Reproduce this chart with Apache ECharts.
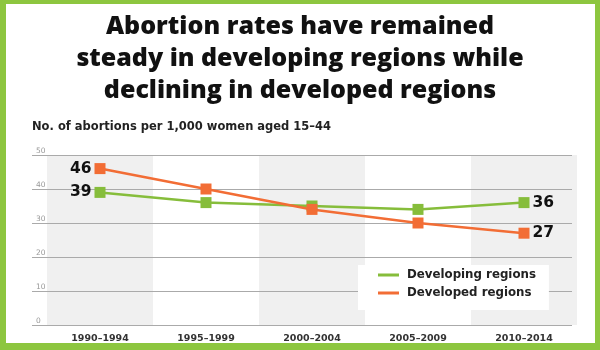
<!DOCTYPE html>
<html>
<head>
<meta charset="utf-8">
<script src="https://cdn.jsdelivr.net/npm/echarts@6/dist/echarts.min.js"></script>
<style>
html,body{margin:0;padding:0;}
#wrap{position:relative;width:600px;height:350px;background:#8dc63f;overflow:hidden;}
#inner{position:absolute;left:6px;top:4px;width:589px;height:339px;background:#fff;}
#chart{position:absolute;left:0;top:0;width:600px;height:350px;}
</style>
</head>
<body>
<div id="wrap"><div id="inner"></div><div id="chart"></div></div>
<script>
const categories = ['1990–1994', '1995–1999', '2000–2004', '2005–2009', '2010–2014'];
const developing = [39, 36, 35, 34, 36];
const developed = [46, 40, 34, 30, 27];
const yTicks = [0, 10, 20, 30, 40, 50];
const titleText = 'Abortion rates have remained\nsteady in developing regions while\ndeclining in developed regions';
const subtitleText = 'No. of abortions per 1,000 women aged 15–44';

const GREEN = '#86bd3b';
const ORANGE = '#f26d35';
const TFONT = '"Open Sans", sans-serif';
const FONT = '"DejaVu Sans", sans-serif';

const chart = echarts.init(document.getElementById('chart'));

chart.setOption({
  animation: false,
  textStyle: { fontFamily: FONT },
  graphic: [
    {
      type: 'text', x: 300, y: 11,
      style: { text: titleText, fontFamily: TFONT, fontSize: 25, fontWeight: 800, fill: '#111', lineHeight: 32, align: 'center', verticalAlign: 'top' }
    },
    {
      type: 'text', left: 32, top: 121,
      style: { text: subtitleText, fontFamily: FONT, fontSize: 11.5, fontWeight: 'bold', fill: '#222' }
    }
  ],
  grid: [
    { left: 32, right: 28, top: 155, bottom: 25 },
    { left: 47, right: 23, top: 155, bottom: 25 }
  ],
  xAxis: [
    { type: 'value', gridIndex: 0, show: false, min: 0, max: 1 },
    {
      type: 'category', gridIndex: 1, data: categories, boundaryGap: true, z: 0,
      axisLine: { show: false }, axisTick: { show: false },
      axisLabel: { color: '#333', fontSize: 9.5, fontWeight: 'bold', margin: 9, fontFamily: FONT },
      splitArea: { show: true, areaStyle: { color: ['#f0f0f0', 'rgba(255,255,255,0)'] } }
    }
  ],
  yAxis: [
    {
      type: 'value', gridIndex: 0, min: yTicks[0], max: yTicks[yTicks.length - 1], interval: 10, z: 1,
      axisLine: { show: false }, axisTick: { show: false },
      axisLabel: { inside: true, margin: 4, verticalAlign: 'bottom', color: '#999', fontSize: 7.5, fontFamily: FONT },
      splitLine: { show: true, lineStyle: { color: '#aaa', width: 1 } }
    },
    {
      type: 'value', gridIndex: 1, min: 0, max: 50, interval: 10, show: false,
      splitLine: { show: false }
    }
  ],
  legend: {
    orient: 'vertical',
    left: 358, top: 265,
    backgroundColor: '#fff',
    padding: [4, 13, 11, 20],
    itemGap: 6,
    icon: 'rect',
    itemWidth: 21, itemHeight: 3,
    textStyle: { fontSize: 11.8, fontWeight: 'bold', color: '#222', fontFamily: FONT, padding: [0, 0, 0, 3] },
    data: ['Developing regions', 'Developed regions'],
    z: 10
  },
  series: [
    {
      name: 'Developing regions', type: 'line', xAxisIndex: 1, yAxisIndex: 1,
      data: developing.map((v, i) => ({ value: v, label: { show: i === 0 || i === developing.length - 1, position: i === 0 ? 'left' : 'right' } })),
      symbol: 'rect', symbolSize: 11,
      itemStyle: { color: GREEN }, lineStyle: { color: GREEN, width: 2.5 },
      label: { fontSize: 15.5, fontWeight: 'bold', color: '#111', distance: 3, fontFamily: FONT },
      z: 3
    },
    {
      name: 'Developed regions', type: 'line', xAxisIndex: 1, yAxisIndex: 1,
      data: developed.map((v, i) => ({ value: v, label: { show: i === 0 || i === developed.length - 1, position: i === 0 ? 'left' : 'right' } })),
      symbol: 'rect', symbolSize: 11,
      itemStyle: { color: ORANGE }, lineStyle: { color: ORANGE, width: 2.5 },
      label: { fontSize: 15.5, fontWeight: 'bold', color: '#111', distance: 3, fontFamily: FONT },
      z: 4
    }
  ]
});
</script>
</body>
</html>
